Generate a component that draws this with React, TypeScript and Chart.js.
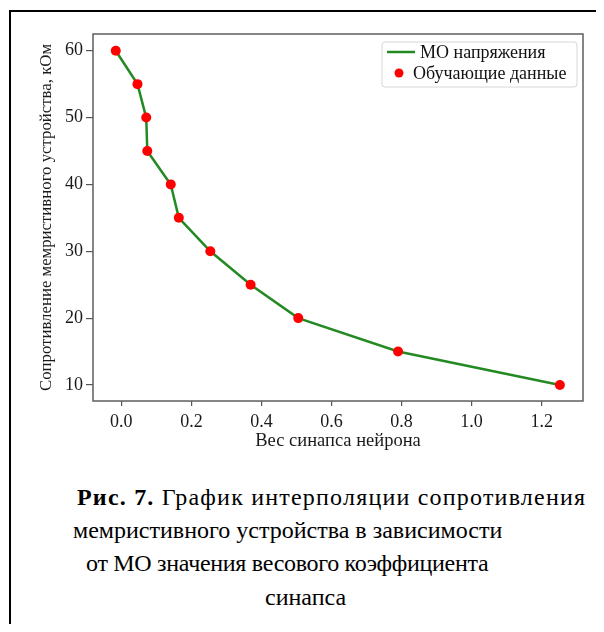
import React, { useEffect, useRef } from "react";
import { Chart, registerables } from "chart.js";

Chart.register(...registerables);

// ---- data ----
const weights = [-0.016, 0.046, 0.071, 0.074, 0.141, 0.164, 0.254, 0.369, 0.505, 0.79, 1.252];
const resistances = [60, 55, 50, 45, 40, 35, 30, 25, 20, 15, 10];
const xTicks = [0, 0.2, 0.4, 0.6, 0.8, 1.0, 1.2];
const yTicks = [10, 20, 30, 40, 50, 60];
const lineLabel = "МО напряжения";
const pointLabel = "Обучающие данные";
const xTitle = "Вес синапса нейрона";
const yTitle = "Сопротивление мемристивного устройства, кОм";
const captionLines = [
  { bold: "Рис. 7.", text: " График интерполяции сопротивления" },
  { bold: "", text: "мемристивного устройства в зависимости" },
  { bold: "", text: "от МО значения весового коэффициента" },
  { bold: "", text: "синапса" },
];

const SERIF = `"Liberation Serif", "Times New Roman", Tinos`;
const GREEN = "#238a23";
const RED = "#ff0000";

const frameAndLegend = {
  id: "frameAndLegend",
  afterDatasetsDraw(chart: any) {
    const { ctx, chartArea } = chart;
    ctx.save();
    ctx.strokeStyle = "#5e5e5e";
    ctx.lineWidth = 1.5;
    ctx.strokeRect(chartArea.left, chartArea.top, chartArea.right - chartArea.left, chartArea.bottom - chartArea.top);
    const bw = 195, bh = 45;
    const bx = chartArea.right - 6 - bw;
    const by = chartArea.top + 8;
    ctx.beginPath();
    const r = 3;
    ctx.moveTo(bx + r, by);
    ctx.lineTo(bx + bw - r, by);
    ctx.quadraticCurveTo(bx + bw, by, bx + bw, by + r);
    ctx.lineTo(bx + bw, by + bh - r);
    ctx.quadraticCurveTo(bx + bw, by + bh, bx + bw - r, by + bh);
    ctx.lineTo(bx + r, by + bh);
    ctx.quadraticCurveTo(bx, by + bh, bx, by + bh - r);
    ctx.lineTo(bx, by + r);
    ctx.quadraticCurveTo(bx, by, bx + r, by);
    ctx.closePath();
    ctx.fillStyle = "rgba(255,255,255,0.9)";
    ctx.fill();
    ctx.strokeStyle = "#d6d6d6";
    ctx.lineWidth = 1;
    ctx.stroke();
    const ds = chart.data.datasets;
    const y1 = by + 10;
    const y2 = by + 31;
    ctx.strokeStyle = GREEN;
    ctx.lineWidth = 2.5;
    ctx.beginPath();
    ctx.moveTo(bx + 5, y1);
    ctx.lineTo(bx + 33, y1);
    ctx.stroke();
    ctx.fillStyle = RED;
    ctx.beginPath();
    ctx.arc(bx + 17, y2, 4.5, 0, Math.PI * 2);
    ctx.fill();
    ctx.fillStyle = "#111";
    ctx.font = `18px ${SERIF}`;
    ctx.textBaseline = "middle";
    ctx.textAlign = "left";
    ctx.fillText(ds[0].label, bx + 38, y1 + 1);
    ctx.fillText(ds[1].label, bx + 31, y2 + 1);
    ctx.restore();
  },
};

export default function App() {
  const ref = useRef<HTMLCanvasElement>(null);

  useEffect(() => {
    if (!ref.current) return;
    let chart: any = null;
    let cancelled = false;
    const build = () => {
      if (cancelled || !ref.current) return;
      const pts = weights.map((w, i) => ({ x: w, y: resistances[i] }));
      chart = new Chart(ref.current, {
        type: "line",
        data: {
          datasets: [
            {
              label: lineLabel,
              data: pts,
              borderColor: GREEN,
              borderWidth: 2.5,
              pointRadius: 0,
              tension: 0,
              fill: false,
              order: 2,
            },
            {
              label: pointLabel,
              data: pts,
              showLine: false,
              pointRadius: 5,
              pointBackgroundColor: RED,
              pointBorderColor: RED,
              pointBorderWidth: 0,
              order: 1,
            },
          ],
        },
        options: {
          animation: false,
          responsive: false,
          maintainAspectRatio: false,
          layout: { padding: { top: 14, right: 13, left: 0, bottom: 0 } },
          plugins: { legend: { display: false }, tooltip: { enabled: false } },
          scales: {
            x: {
              type: "linear",
              min: -0.081,
              max: 1.318,
              afterBuildTicks: (s: any) => {
                s.ticks = xTicks.map((v) => ({ value: v }));
              },
              afterFit: (s: any) => {
                s.height = 69;
              },
              border: { display: false },
              grid: { drawOnChartArea: false, drawTicks: true, tickLength: 5, color: "#555", lineWidth: 1.2 },
              ticks: {
                padding: 5,
                color: "#1a1a1a",
                font: { family: SERIF, size: 18 },
                maxRotation: 0,
                callback: (v: any) => Number(v).toFixed(1),
              },
              title: {
                display: true,
                text: xTitle,
                color: "#1a1a1a",
                font: { family: SERIF, size: 18.5 },
                padding: { top: 0, bottom: 18 },
              },
            },
            y: {
              type: "linear",
              min: 7.6,
              max: 62.5,
              afterBuildTicks: (s: any) => {
                s.ticks = yTicks.map((v) => ({ value: v }));
              },
              afterFit: (s: any) => {
                s.width = 73;
              },
              border: { display: false },
              grid: { drawOnChartArea: false, drawTicks: true, tickLength: 7, color: "#555", lineWidth: 1.2 },
              ticks: {
                padding: 3,
                color: "#1a1a1a",
                font: { family: SERIF, size: 18 },
                callback: (v: any) => String(v),
              },
              title: {
                display: true,
                text: yTitle,
                color: "#1a1a1a",
                font: { family: SERIF, size: 16.8 },
                padding: { top: 17, bottom: 0 },
              },
            },
          },
        },
        plugins: [frameAndLegend],
      });
    };
    const fontsApi: any = (document as any).fonts;
    if (fontsApi && fontsApi.load) {
      Promise.all([
        fontsApi.load(`18px "Liberation Serif"`, "Сопротивление 0.2"),
        fontsApi.load(`bold 18px "Liberation Serif"`, "Рис"),
      ])
        .catch(() => null)
        .then(build);
    } else {
      build();
    }
    return () => {
      cancelled = true;
      if (chart) chart.destroy();
    };
  }, []);

  const captionLeft = [77, 73, 86, 265];
  const captionTop = [474, 507, 540, 574];
  const captionSpacing = [1.2, 0, -0.3, 0];

  return (
    <div style={{ position: "relative", width: 596, height: 616, background: "#fff", overflow: "hidden" }}>
      <div
        style={{
          position: "absolute",
          left: 1,
          top: 2,
          width: 620,
          height: 640,
          borderLeft: "2px solid #000",
          borderTop: "2px solid #000",
          boxSizing: "border-box",
        }}
      />
      <canvas ref={ref} width={576} height={450} style={{ position: "absolute", left: 12, top: 12, width: 576, height: 450 }} />
      {captionLines.map((l, i) => (
        <div
          key={i}
          style={{
            position: "absolute",
            left: captionLeft[i] - 8,
            top: captionTop[i],
            fontFamily: SERIF,
            fontSize: 24,
            lineHeight: "30px",
            letterSpacing: captionSpacing[i],
            whiteSpace: "nowrap",
            color: "#000",
          }}
        >
          {l.bold && <b>{l.bold}</b>}
          {l.text}
        </div>
      ))}
    </div>
  );
}
